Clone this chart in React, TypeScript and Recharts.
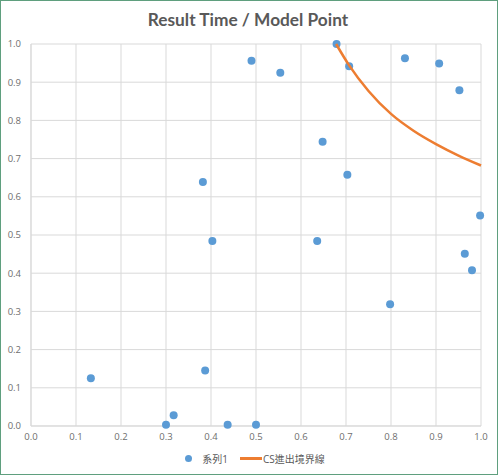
import React from "react";
import {
  ScatterChart,
  Scatter,
  XAxis,
  YAxis,
  CartesianGrid
} from "recharts";

// series 1 points (x = model point, y = result time)
const pointX = [
  0.49, 0.554, 0.679, 0.707, 0.831, 0.907, 0.952, 0.648, 0.382, 0.703, 0.403,
  0.636, 0.998, 0.964, 0.98, 0.798, 0.133, 0.387, 0.3, 0.317, 0.437, 0.5
];
const pointY = [
  0.956, 0.925, 1.0, 0.942, 0.963, 0.949, 0.879, 0.744, 0.639, 0.658, 0.484,
  0.484, 0.551, 0.451, 0.408, 0.319, 0.125, 0.145, 0.003, 0.028, 0.003, 0.003
];

// CS boundary curve
const curveX = [0.678, 0.707, 0.75, 0.8, 0.85, 0.9, 0.95, 1.0];
const curveY = [1.0, 0.944, 0.877, 0.817, 0.773, 0.738, 0.708, 0.682];

const ticks = [0, 0.1, 0.2, 0.3, 0.4, 0.5, 0.6, 0.7, 0.8, 0.9, 1.0];

const seriesName = "系列1";
const curveName = "CS進出境界線";

const points = pointX.map((x, i) => ({ x, y: pointY[i] }));
const curve = curveX.map((x, i) => ({ x, y: curveY[i] }));

const BLUE = "#5b9bd5";
const ORANGE = "#ed7d31";
const GRID = "#d9d9d9";
const TEXT = "#595959";

const tickStyle = { fontSize: 9.5, fill: "#6e6e6e", fontFamily: "'Open Sans', sans-serif" };

export default function App() {
  return (
    <div
      style={{
        position: "absolute",
        left: 0,
        top: 0,
        width: 500,
        height: 475,
        background: "#fff",
        fontFamily: "'Open Sans', 'Noto Sans CJK TC', sans-serif"
      }}
    >
      <div
        style={{
          position: "absolute",
          left: 0,
          top: 0,
          width: 498,
          height: 475,
          boxSizing: "border-box",
          border: "1.5px solid #5f9f7e",
          pointerEvents: "none"
        }}
      />
      <div
        style={{
          position: "absolute",
          left: 0,
          width: 496,
          top: 9,
          textAlign: "center",
          fontFamily: "Lato, sans-serif",
          fontWeight: 700,
          fontSize: 17.3,
          color: TEXT
        }}
      >
        Result Time / Model Point
      </div>
      <ScatterChart
        width={500}
        height={475}
        margin={{ top: 44, right: 19, left: 0, bottom: 29 }}
      >
        <CartesianGrid stroke={GRID} strokeWidth={1} />
        <XAxis
          type="number"
          dataKey="x"
          domain={[0, 1]}
          ticks={ticks}
          tickFormatter={(v) => v.toFixed(1)}
          tick={tickStyle}
          tickLine={false}
          tickSize={3}
          tickMargin={4}
          axisLine={{ stroke: GRID }}
          height={20}
        />
        <YAxis
          type="number"
          dataKey="y"
          domain={[0, 1]}
          ticks={ticks}
          tickFormatter={(v) => v.toFixed(1)}
          tick={tickStyle}
          tickLine={false}
          tickSize={5}
          tickMargin={5}
          axisLine={{ stroke: GRID }}
          width={31}
        />
        <Scatter
          name={seriesName}
          data={points}
          fill={BLUE}
          shape={(p: any) => <circle cx={p.cx} cy={p.cy} r={4} fill={BLUE} />}
          isAnimationActive={false}
        />
        <Scatter
          name={curveName}
          data={curve}
          line={{ stroke: ORANGE, strokeWidth: 2.5 }}
          lineJointType="monotoneX"
          shape={() => <g />}
          isAnimationActive={false}
        />
      </ScatterChart>
      <div
        style={{
          position: "absolute",
          top: 451,
          left: 0,
          width: 500,
          display: "flex",
          justifyContent: "center",
          alignItems: "center",
          fontSize: 10,
          color: TEXT,
          paddingLeft: 10,
          boxSizing: "border-box"
        }}
      >
        <span
          style={{
            display: "inline-block",
            width: 7,
            height: 7,
            borderRadius: "50%",
            background: BLUE,
            marginRight: 10
          }}
        />
        <span style={{ marginRight: 12 }}>{seriesName}</span>
        <span
          style={{
            display: "inline-block",
            width: 22,
            height: 3,
            background: ORANGE,
            marginRight: 1
          }}
        />
        <span>{curveName}</span>
      </div>
    </div>
  );
}
